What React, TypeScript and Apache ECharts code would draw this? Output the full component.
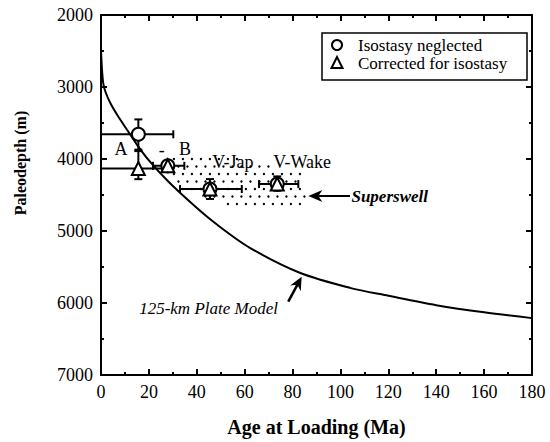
import React, { useEffect, useRef } from "react";
import * as echarts from "echarts";

// Plate model curve (age Ma, depth m)
const curveAge = [0, 0.5, 1, 2, 4, 7, 11, 15, 20, 28, 39, 48, 62, 83, 104, 120, 140, 160, 180];
const curveDepth = [2500, 2800, 2960, 3080, 3230, 3400, 3600, 3800, 4020, 4310, 4650, 4900, 5230, 5580, 5790, 5900, 6030, 6130, 6210];

// Data points
const neglectedAge = [15.6, 27.9, 45.5, 73.6];
const neglectedDepth = [3657, 4095, 4417, 4348];
const correctedAge = [15.6, 27.9, 45.5, 73.6];
const correctedDepth = [4131, 4095, 4417, 4348];

// Error bars
const errAge = [15.6, 15.6, 27.9, 45.5, 73.6];
const errDepth = [3657, 4131, 4095, 4417, 4348];
const errAgeLo = [0, 0, 21.7, 33, 66];
const errAgeHi = [30.2, 28, 34.8, 58.8, 82.4];
const errDepthLo = [3450, 3890, 4060, 4279, 4242];
const errDepthHi = [3870, 4280, 4130, 4555, 4441];

// Superswell region outline
const swAge = [26.7, 51.8, 83.1, 86.5, 86, 64.3, 47.6, 33, 28];
const swDepth = [3986, 3958, 4181, 4542, 4722, 4722, 4583, 4403, 4194];

// Text labels
const labelText = ["A", "-", "B", "V-Jap", "V-Wake"];
const labelAge = [8.4, 25.4, 35.1, 55.1, 84];
const labelDepth = [3865, 3870, 3855, 4048, 4048];

const legendNames = ["Isostasy neglected", "Corrected for isostasy"];

const xTicks = [0, 20, 40, 60, 80, 100, 120, 140, 160, 180];
const yTicks = [2000, 3000, 4000, 5000, 6000, 7000];

const FONT = "Liberation Serif";

function insidePoly(px: number, py: number, pts: number[][]) {
  let inside = false;
  for (let i = 0, j = pts.length - 1; i < pts.length; j = i++) {
    const xi = pts[i][0], yi = pts[i][1], xj = pts[j][0], yj = pts[j][1];
    if ((yi > py) !== (yj > py) && px < ((xj - xi) * (py - yi)) / (yj - yi) + xi) inside = !inside;
  }
  return inside;
}

export default function App() {
  const ref = useRef<HTMLDivElement>(null);
  useEffect(() => {
    document.body.style.margin = "0";
    if (!ref.current) return;
    const chart = echarts.init(ref.current, null, { renderer: "svg" });
    const axisLine = { show: true, onZero: false, lineStyle: { color: "#000", width: 2 } };
    const tick = { show: true, inside: true, length: 6, lineStyle: { color: "#000", width: 2 } };
    const minor = { show: true, splitNumber: 2, length: 3, lineStyle: { color: "#000", width: 2 } };
    const lbl = { color: "#000", fontFamily: FONT, fontSize: 18, formatter: (v: number) => String(v) };

    const errData = errAge.map((a, i) => [a, errDepth[i], errAgeLo[i], errAgeHi[i], errDepthLo[i], errDepthHi[i]]);

    chart.setOption({
      animation: false,
      textStyle: { fontFamily: FONT },
      grid: { left: 101, right: 18, top: 15, bottom: 65 },
      xAxis: [
        {
          type: "value", position: "bottom", min: xTicks[0], max: xTicks[xTicks.length - 1], interval: 20,
          axisLine, axisTick: tick, minorTick: minor, splitLine: { show: false },
          axisLabel: { ...lbl, margin: 8 },
          name: "Age at Loading (Ma)", nameLocation: "middle", nameGap: 42,
          nameTextStyle: { color: "#000", fontFamily: FONT, fontSize: 20, fontWeight: "bold" },
        },
        {
          type: "value", position: "top", min: xTicks[0], max: xTicks[xTicks.length - 1], interval: 20,
          axisLine, axisTick: tick, minorTick: minor, splitLine: { show: false }, axisLabel: { show: false },
        },
      ],
      yAxis: [
        {
          type: "value", position: "left", inverse: true, min: yTicks[0], max: yTicks[yTicks.length - 1], interval: 1000,
          axisLine, axisTick: tick, minorTick: minor, splitLine: { show: false },
          axisLabel: { ...lbl, margin: 8 },
        },
        {
          type: "value", position: "right", inverse: true, min: yTicks[0], max: yTicks[yTicks.length - 1], interval: 1000,
          axisLine, axisTick: tick, minorTick: minor, splitLine: { show: false }, axisLabel: { show: false },
        },
      ],
      series: [
        {
          type: "custom",
          name: "Superswell",
          silent: true,
          data: [[swAge[0], swDepth[0]]],
          renderItem: (params: any, api: any) => {
            const pts = swAge.map((a, i) => api.coord([a, swDepth[i]]));
            const xs = pts.map((p) => p[0]);
            const ys = pts.map((p) => p[1]);
            const minX = Math.min(...xs), maxX = Math.max(...xs), minY = Math.min(...ys), maxY = Math.max(...ys);
            const children: any[] = [];
            let r = 0;
            for (let y = minY + 3; y <= maxY; y += 7.5, r++) {
              const off = (r % 2) * 4.5;
              for (let x = minX + off; x <= maxX; x += 9) {
                if (insidePoly(x, y, pts)) {
                  children.push({ type: "circle", shape: { cx: x, cy: y, r: 1.2 }, style: { fill: "#000" } });
                }
              }
            }
            return { type: "group", children };
          },
          z: 1,
        },
        {
          type: "line",
          name: "125-km Plate Model",
          data: curveAge.map((a, i) => [a, curveDepth[i]]),
          showSymbol: false,
          smooth: 0.3,
          lineStyle: { color: "#000", width: 2 },
          z: 2,
        },
        {
          type: "custom",
          name: "errors",
          data: errData,
          encode: { x: [0, 2, 3], y: [1, 4, 5] },
          renderItem: (params: any, api: any) => {
            const x = api.value(0), y = api.value(1);
            const pL = api.coord([api.value(2), y]);
            const pR = api.coord([api.value(3), y]);
            const pT = api.coord([x, api.value(4)]);
            const pB = api.coord([x, api.value(5)]);
            const c = 4;
            const st = { stroke: "#000", lineWidth: 2 };
            const ln = (x1: number, y1: number, x2: number, y2: number) => ({ type: "line", shape: { x1, y1, x2, y2 }, style: st });
            return {
              type: "group",
              children: [
                ln(pL[0], pL[1], pR[0], pR[1]),
                ln(pL[0], pL[1] - c, pL[0], pL[1] + c),
                ln(pR[0], pR[1] - c, pR[0], pR[1] + c),
                ln(pT[0], pT[1], pB[0], pB[1]),
                ln(pT[0] - c, pT[1], pT[0] + c, pT[1]),
                ln(pB[0] - c, pB[1], pB[0] + c, pB[1]),
              ],
            };
          },
          z: 3,
        },
        {
          type: "scatter",
          name: legendNames[0],
          data: neglectedAge.map((a, i) => [a, neglectedDepth[i]]),
          symbol: "circle",
          symbolSize: 13,
          itemStyle: { color: "#fff", borderColor: "#000", borderWidth: 2, opacity: 1 },
          z: 4,
        },
        {
          type: "scatter",
          name: legendNames[1],
          data: correctedAge.map((a, i) => [a, correctedDepth[i]]),
          symbol: "triangle",
          symbolSize: 13,
          itemStyle: { color: "#fff", borderColor: "#000", borderWidth: 2, opacity: 1 },
          z: 5,
        },
      ],
    });

    const px = (a: number, d: number) => chart.convertToPixel({ xAxisIndex: 0, yAxisIndex: 0 }, [a, d]) as number[];
    const graphics: any[] = [];
    labelText.forEach((t, i) => {
      const p = px(labelAge[i], labelDepth[i]);
      graphics.push({
        type: "text", x: p[0], y: p[1], z: 10,
        style: { text: t, fill: "#000", font: `18px "${FONT}"`, align: "center", verticalAlign: "middle" },
      });
    });
    // Superswell arrow
    const tip = px(86.6, 4514);
    const tail = px(104, 4514);
    graphics.push({ type: "line", z: 10, shape: { x1: tip[0] + 10, y1: tip[1], x2: tail[0], y2: tail[1] }, style: { stroke: "#000", lineWidth: 2 } });
    graphics.push({ type: "polygon", z: 10, shape: { points: [[tip[0], tip[1]], [tip[0] + 14, tip[1] - 6], [tip[0] + 10, tip[1]], [tip[0] + 14, tip[1] + 6]] }, style: { fill: "#000" } });
    const swt = px(104.6, 4514);
    graphics.push({ type: "text", z: 10, x: swt[0], y: swt[1], style: { text: "Superswell", fill: "#000", font: `italic bold 17px "${FONT}"`, align: "left", verticalAlign: "middle" } });
    // Plate model arrow
    const at = px(83.8, 5637);
    const as = px(78.2, 5982);
    const dx = at[0] - as[0], dy = at[1] - as[1];
    const len = Math.sqrt(dx * dx + dy * dy);
    const ux = dx / len, uy = dy / len;
    const nx = -uy, ny = ux;
    const bx = at[0] - ux * 13, by = at[1] - uy * 13;
    graphics.push({ type: "line", z: 10, shape: { x1: as[0], y1: as[1], x2: at[0] - ux * 8, y2: at[1] - uy * 8 }, style: { stroke: "#000", lineWidth: 2.5 } });
    graphics.push({ type: "polygon", z: 10, shape: { points: [[at[0], at[1]], [bx + nx * 6, by + ny * 6], [at[0] - ux * 9, at[1] - uy * 9], [bx - nx * 6, by - ny * 6]] }, style: { fill: "#000" } });
    const pm = px(73.9, 6075);
    graphics.push({ type: "text", z: 10, x: pm[0], y: pm[1], style: { text: "125-km Plate Model", fill: "#000", font: `italic 17px "${FONT}"`, align: "right", verticalAlign: "middle" } });
    // Y axis name
    graphics.push({ type: "text", z: 10, x: 20, y: 163, rotation: Math.PI / 2, style: { text: "Paleodepth (m)", fill: "#000", font: `bold 16px "${FONT}"`, align: "center", verticalAlign: "middle" } });
    // Legend
    graphics.push({ type: "rect", z: 10, shape: { x: 322, y: 33, width: 205, height: 47 }, style: { fill: "#fff", stroke: "#000", lineWidth: 1.5 } });
    graphics.push({ type: "circle", z: 11, shape: { cx: 337, cy: 45, r: 5 }, style: { fill: "#fff", stroke: "#000", lineWidth: 2 } });
    graphics.push({ type: "polygon", z: 11, shape: { points: [[337, 57], [331.5, 68], [342.5, 68]] }, style: { fill: "#fff", stroke: "#000", lineWidth: 2 } });
    graphics.push({ type: "text", z: 11, x: 358, y: 45, style: { text: legendNames[0], fill: "#000", font: `17px "${FONT}"`, align: "left", verticalAlign: "middle" } });
    graphics.push({ type: "text", z: 11, x: 358, y: 63, style: { text: legendNames[1], fill: "#000", font: `17px "${FONT}"`, align: "left", verticalAlign: "middle" } });

    chart.setOption({ graphic: graphics });
    return () => chart.dispose();
  }, []);
  return <div ref={ref} style={{ width: 550, height: 442 }} />;
}
